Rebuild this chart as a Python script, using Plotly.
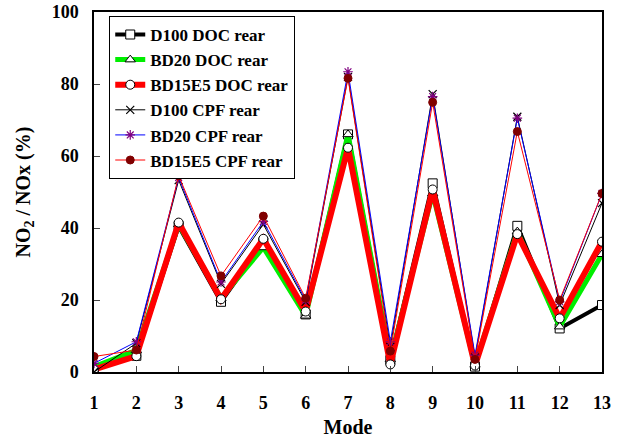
import plotly.graph_objects as go

modes = list(range(1, 14))
d100_doc = [1.0, 4.5, 40.5, 19.5, 36.0, 16.0, 66.0, 3.3, 52.4, 1.5, 40.6, 12.1, 18.6]
bd20_doc = [1.5, 6.0, 41.0, 20.5, 34.6, 15.6, 66.0, 3.5, 49.6, 2.0, 39.0, 12.6, 32.7]
bd15e5_doc = [0.7, 4.4, 41.5, 20.2, 37.0, 16.8, 62.3, 2.1, 50.7, 1.8, 38.3, 14.9, 36.2]
d100_cpf = [0.0, 8.0, 53.3, 24.5, 41.0, 19.5, 82.0, 7.0, 77.2, 4.0, 70.9, 18.6, 46.9]
bd20_cpf = [2.4, 8.4, 54.0, 25.0, 41.8, 20.0, 83.4, 8.4, 76.5, 4.7, 70.5, 19.5, 49.6]
bd15e5_cpf = [4.3, 6.1, 54.5, 26.7, 43.3, 20.5, 81.6, 5.8, 74.9, 3.5, 66.8, 20.0, 49.6]
names = ["D100 DOC rear", "BD20 DOC rear", "BD15E5 DOC rear",
         "D100 CPF rear", "BD20 CPF rear", "BD15E5 CPF rear"]
x_ticks = list(range(1, 14))
y_ticks = [0, 20, 40, 60, 80, 100]

FONT = "Liberation Serif"
fig = go.Figure()
styles = [
    (d100_doc, "black", 4, dict(symbol="square", size=9, color="white", line=dict(color="black", width=1))),
    (bd20_doc, "#00ee00", 5, dict(symbol="triangle-up", size=9, color="white", line=dict(color="black", width=1))),
    (bd15e5_doc, "#ff0000", 6, dict(symbol="circle", size=9, color="white", line=dict(color="black", width=1))),
    (d100_cpf, "black", 1, dict(symbol="x-thin-open", size=8, color="black", line=dict(color="black", width=1.2))),
    (bd20_cpf, "#0000ff", 1, dict(symbol="asterisk-open", size=8, color="#800080", line=dict(color="#800080", width=1.2))),
    (bd15e5_cpf, "#ff0000", 1, dict(symbol="circle", size=8, color="#800000", line=dict(color="#800000", width=1))),
]
for (vals, col, w, mk), nm in zip(styles, names):
    fig.add_trace(go.Scatter(x=modes, y=vals, name=nm, mode="lines+markers",
                             line=dict(color=col, width=w), marker=mk))

fig.update_layout(
    width=623, height=443,
    margin=dict(l=94, r=21, t=12, b=71),
    plot_bgcolor="white", paper_bgcolor="white",
    font=dict(family=FONT, size=18, color="black", weight="bold"),
    showlegend=True,
    legend=dict(x=0.03, y=0.989, xanchor="left", yanchor="top",
                bordercolor="black", borderwidth=1, bgcolor="white",
                font=dict(family=FONT, size=17, color="black", weight="bold"),
                itemwidth=30, tracegroupgap=0, entrywidth=190, entrywidthmode="pixels"),
)
fig.update_xaxes(range=[1, 13], tickvals=x_ticks, ticks="inside", ticklen=6,
                 showline=True, linecolor="black", linewidth=1.5, mirror=True,
                 showgrid=False, zeroline=False, ticklabelstandoff=14, automargin=False,
                 title=dict(text="Mode", font=dict(size=20, family=FONT, weight="bold"), standoff=8))
fig.update_yaxes(range=[0, 100], tickvals=y_ticks, ticks="inside", ticklen=6,
                 showline=True, linecolor="black", linewidth=1.5, mirror=True,
                 showgrid=False, zeroline=False, ticklabelstandoff=10, automargin=False,
                 title=dict(text="NO<sub>2</sub> / NOx (%)", font=dict(size=20, family=FONT, weight="bold"), standoff=16))
fig.write_html("out.html")
